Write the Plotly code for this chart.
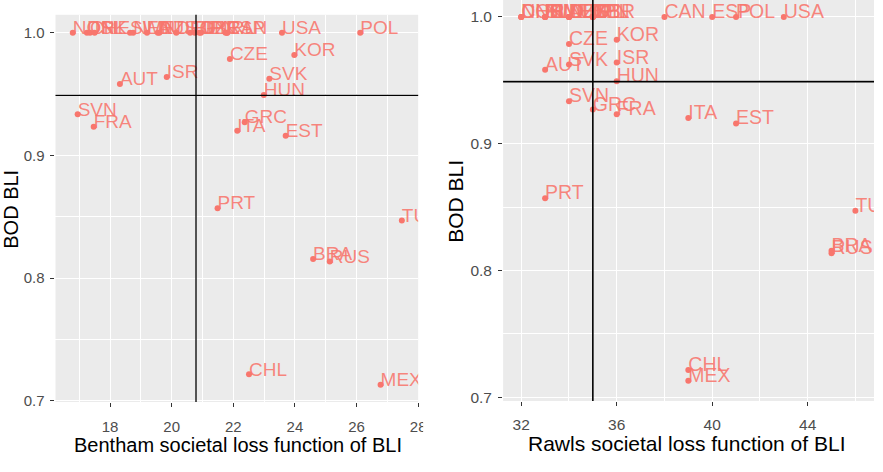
import plotly.graph_objects as go

countries = ["NOR", "DNK", "CHE", "ISL", "SWE", "NLD", "FIN", "AUS", "NZL", "DEU",
             "LUX", "BEL", "GBR", "JPN", "IRL", "CAN", "ESP", "USA", "POL", "CZE",
             "KOR", "AUT", "ISR", "SVK", "HUN", "SVN", "FRA", "GRC", "ITA", "EST",
             "PRT", "TUR", "BRA", "RUS", "CHL", "MEX"]
bentham = [16.79, 17.25, 17.35, 17.5, 18.65, 18.75, 19.2, 19.55, 19.6, 20.15,
           20.6, 20.75, 20.9, 20.95, 21.75, 21.8, 21.8, 23.58, 26.12, 21.89,
           23.98, 18.32, 19.84, 23.17, 22.99, 16.95, 17.47, 22.37, 22.13, 23.7,
           21.49, 27.47, 24.59, 25.13, 22.51, 26.78]
rawls = [32, 32, 32, 33, 33, 33, 33, 34, 34, 34,
         34, 35, 35, 35, 35, 38, 40, 43, 41, 34,
         36, 33, 36, 34, 36, 34, 36, 35, 39, 41,
         33, 46, 45, 45, 39, 39]
bod = [1.0, 1.0, 1.0, 1.0, 1.0, 1.0, 1.0, 1.0, 1.0, 1.0,
       1.0, 1.0, 1.0, 1.0, 1.0, 1.0, 1.0, 1.0, 1.0, 0.9786,
       0.982, 0.9583, 0.964, 0.9625, 0.9492, 0.9335, 0.9233, 0.927, 0.9202, 0.916,
       0.857, 0.847, 0.8155, 0.8135, 0.7215, 0.713]
bentham_cut = 20.79
rawls_cut = 35.0
bod_cut = 0.949

left_xticks = [18, 20, 22, 24, 26, 28]
right_xticks = [32, 36, 40, 44]
yticks = [0.7, 0.8, 0.9, 1.0]

W, H = 883, 472
PT = "#F8766D"
LBL = "rgba(248,118,109,0.88)"
FONT = "Liberation Sans, Arial, sans-serif"

L_Y = [0.699, 1.0147]
R_Y = [0.697, 1.0134]
L_DOM = [1 - 408 / H, 1 - 15 / H]
R_DOM = [1 - 407 / H, 1.0]
TEXT_DROP_PX = 6


def shifted(rng, dom):
    span_px = (dom[1] - dom[0]) * H
    d = (rng[1] - rng[0]) / span_px * TEXT_DROP_PX
    return [rng[0] + d, rng[1] + d]


fig = go.Figure()

for xs, xa, ya, ya_txt, fs in [(bentham, "x", "y", "y3", 19), (rawls, "x2", "y2", "y4", 19.5)]:
    fig.add_trace(go.Scatter(x=xs, y=bod, mode="markers", xaxis=xa, yaxis=ya,
                             marker=dict(color=PT, size=6), cliponaxis=True,
                             showlegend=False, hoverinfo="skip"))
    fig.add_trace(go.Scatter(x=xs, y=bod, mode="text", text=countries, xaxis=xa, yaxis=ya_txt,
                             textposition="top right", cliponaxis=True,
                             textfont=dict(color=LBL, size=fs, family=FONT),
                             showlegend=False, hoverinfo="skip"))


def px_x(p):
    return p / W


def px_y(p):
    return 1 - p / H


def ax(**kw):
    base = dict(showgrid=True, gridcolor="white", gridwidth=1.4,
                zeroline=False, ticks="outside", ticklen=4, tickcolor="#333333",
                tickfont=dict(color="#4D4D4D", size=15, family=FONT), showline=False)
    base.update(kw)
    return base


fig.update_layout(
    width=W, height=H, margin=dict(l=0, r=0, t=0, b=0),
    paper_bgcolor="white", plot_bgcolor="#EBEBEB",
    font=dict(family=FONT),
    xaxis=ax(domain=[px_x(56), px_x(422)], range=[16.23, 28.0], anchor="y",
             tickvals=left_xticks, ticklabelstandoff=7,
             minor=dict(dtick=1, tick0=17, showgrid=True, gridcolor="white", gridwidth=0.7)),
    yaxis=ax(domain=L_DOM, range=L_Y, anchor="x",
             tickvals=yticks, ticktext=[f"{v:.1f}" for v in yticks], ticklabelstandoff=3,
             minor=dict(dtick=0.05, tick0=0.75, showgrid=True, gridcolor="white", gridwidth=0.7)),
    xaxis2=ax(domain=[px_x(507.7), px_x(882)], range=[31.24, 46.78], anchor="y2",
              tickvals=right_xticks, ticklabelstandoff=5,
              tickfont=dict(color="#4D4D4D", size=15.5, family=FONT),
              minor=dict(dtick=2, tick0=30, showgrid=True, gridcolor="white", gridwidth=0.7)),
    yaxis2=ax(domain=R_DOM, range=R_Y, anchor="x2",
              tickvals=yticks, ticktext=[f"{v:.1f}" for v in yticks], ticklabelstandoff=3,
              tickfont=dict(color="#4D4D4D", size=15.5, family=FONT),
              minor=dict(dtick=0.05, tick0=0.75, showgrid=True, gridcolor="white", gridwidth=0.7)),
    yaxis3=dict(domain=L_DOM, range=shifted(L_Y, L_DOM), overlaying="y", anchor="x",
                visible=False, showgrid=False, zeroline=False),
    yaxis4=dict(domain=R_DOM, range=shifted(R_Y, R_DOM), overlaying="y2", anchor="x2",
                visible=False, showgrid=False, zeroline=False),
)

# reference lines
fig.add_shape(type="line", xref="x", yref="y domain", x0=bentham_cut, x1=bentham_cut, y0=0, y1=1,
              line=dict(color="black", width=1.3))
fig.add_shape(type="line", xref="x domain", yref="y", x0=0, x1=1, y0=bod_cut, y1=bod_cut,
              line=dict(color="black", width=1.3))
fig.add_shape(type="line", xref="x2", yref="y2 domain", x0=rawls_cut, x1=rawls_cut, y0=0, y1=1,
              line=dict(color="black", width=1.6))
fig.add_shape(type="line", xref="x2 domain", yref="y2", x0=0, x1=1, y0=bod_cut, y1=bod_cut,
              line=dict(color="black", width=1.6))

# crop of the left image's last tick label
fig.add_shape(type="rect", xref="paper", yref="paper", x0=px_x(427), x1=px_x(440),
              y0=px_y(445), y1=px_y(409), fillcolor="white", line=dict(width=0), layer="above")

# axis titles
fig.add_annotation(text="Bentham societal loss function of BLI", xref="paper", yref="paper",
                   x=px_x(240), y=px_y(452), xanchor="center", yanchor="middle", showarrow=False,
                   font=dict(size=20, color="black", family=FONT))
fig.add_annotation(text="Rawls societal loss function of BLI", xref="paper", yref="paper",
                   x=px_x(693), y=px_y(450), xanchor="center", yanchor="middle", showarrow=False,
                   font=dict(size=21, color="black", family=FONT))
fig.add_annotation(text="BOD BLI", xref="paper", yref="paper", textangle=-90,
                   x=px_x(11), y=px_y(212), xanchor="center", yanchor="middle", showarrow=False,
                   font=dict(size=20, color="black", family=FONT))
fig.add_annotation(text="BOD BLI", xref="paper", yref="paper", textangle=-90,
                   x=px_x(460), y=px_y(204), xanchor="center", yanchor="middle", showarrow=False,
                   font=dict(size=21, color="black", family=FONT))

fig.write_html("out.html")
